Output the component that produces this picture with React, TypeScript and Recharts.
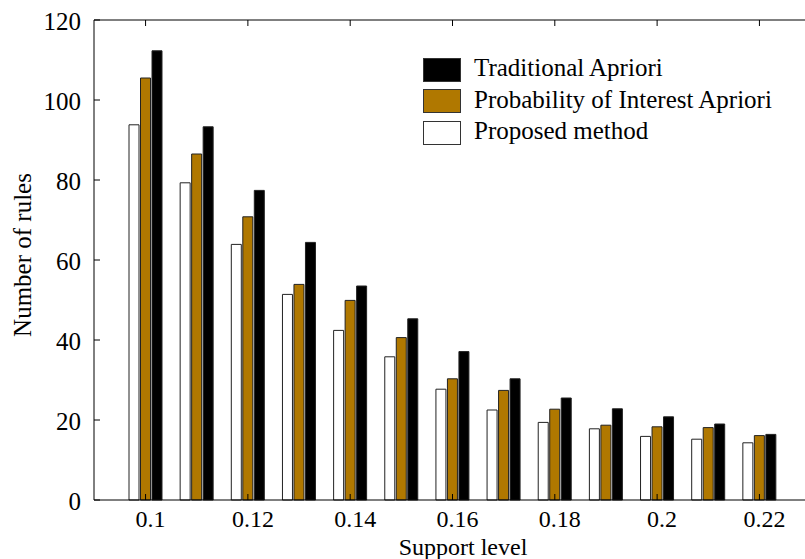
import React from 'react';
import { BarChart, Bar, XAxis, YAxis, Legend } from 'recharts';

const supportLevels = [0.1, 0.11, 0.12, 0.13, 0.14, 0.15, 0.16, 0.17, 0.18, 0.19, 0.2, 0.21, 0.22];
const proposed = [93.8, 79.3, 63.9, 51.4, 42.4, 35.8, 27.7, 22.5, 19.4, 17.8, 15.9, 15.2, 14.3];
const probability = [105.5, 86.5, 70.8, 53.9, 49.9, 40.6, 30.3, 27.4, 22.7, 18.7, 18.3, 18.1, 16.1];
const traditional = [112.3, 93.3, 77.4, 64.4, 53.5, 45.3, 37.1, 30.3, 25.5, 22.8, 20.8, 19.0, 16.4];
const yTicks = [0, 20, 40, 60, 80, 100, 120];

const GOLD = '#b07800';
const FONT = '"Liberation Serif", "Times New Roman", serif';
const FS = 25;
const FSX = 24;

const data = supportLevels.map((s, i) => ({
  support: s,
  proposed: proposed[i],
  probability: probability[i],
  traditional: traditional[i],
}));

const legendItems = [
  { name: 'Traditional Apriori', color: '#000000' },
  { name: 'Probability of Interest Apriori', color: GOLD },
  { name: 'Proposed method', color: '#ffffff' },
];

const LegendContent = () => (
  <div style={{ fontFamily: FONT, fontSize: FS, color: '#000' }}>
    {legendItems.map((it) => (
      <div key={it.name} style={{ display: 'flex', alignItems: 'center', height: 31.5 }}>
        <div
          style={{
            width: 38,
            height: 24,
            boxSizing: 'border-box',
            border: '1px solid #333',
            background: it.color,
          }}
        />
        <span style={{ marginLeft: 13, lineHeight: 1, whiteSpace: 'nowrap', position: 'relative', top: -2 }}>{it.name}</span>
      </div>
    ))}
  </div>
);

const YLabel = (props: any) => {
  const { viewBox } = props;
  const cx = viewBox.x + 22.5;
  const cy = viewBox.y + viewBox.height / 2 - 5;
  return (
    <text
      x={cx}
      y={cy}
      transform={`rotate(-90 ${cx} ${cy})`}
      textAnchor="middle"
      dominantBaseline="central"
      fontFamily={FONT}
      fontSize={FS}
      fill="#000"
    >
      Number of rules
    </text>
  );
};

const XLabel = (props: any) => {
  const { viewBox } = props;
  const cx = viewBox.x + viewBox.width / 2 + 11.5;
  const by = viewBox.y + 55;
  return (
    <text x={cx} y={by} textAnchor="middle" fontFamily={FONT} fontSize={FSX} fill="#000">
      Support level
    </text>
  );
};

const tickStyle = { fontFamily: FONT, fontSize: FS, fill: '#000' };
const xTickStyle = { fontFamily: FONT, fontSize: FSX, fill: '#000' };
const axisLine = { stroke: '#000', strokeWidth: 1 };

export default function App() {
  return (
    <div style={{ position: 'absolute', left: 0, top: 0, width: 805, height: 559, overflow: 'hidden', background: '#fff' }}>
      <BarChart
        width={820}
        height={559}
        data={data}
        margin={{ top: 0, right: 0, bottom: 0, left: 0 }}
        barSize={10}
        barGap={1.5}
      >
        <XAxis
          dataKey="support"
          type="category"
          height={59}
          padding={{ left: 26, right: 24 }}
          interval={1}
          tickSize={-6}
          tickMargin={16}
          tick={{ ...xTickStyle, dx: 5 }}
          axisLine={axisLine}
          tickLine={{ stroke: '#000' }}
          label={<XLabel />}
        />
        <XAxis
          xAxisId="top"
          dataKey="support"
          type="category"
          orientation="top"
          height={20}
          padding={{ left: 26, right: 24 }}
          interval={1}
          tickSize={-6}
          tickFormatter={() => ''}
          axisLine={axisLine}
          tickLine={{ stroke: '#000' }}
        />
        <YAxis
          domain={[0, 120]}
          ticks={yTicks}
          width={94}
          tickSize={-6}
          tickMargin={19}
          tick={{ ...tickStyle, dy: 1 }}
          axisLine={axisLine}
          tickLine={{ stroke: '#000' }}
          label={<YLabel />}
        />
        <YAxis
          yAxisId="right"
          orientation="right"
          domain={[0, 120]}
          ticks={yTicks}
          width={11}
          tickSize={-6}
          tickFormatter={() => ''}
          axisLine={axisLine}
          tickLine={{ stroke: '#000' }}
        />
        <Legend
          layout="vertical"
          align="center"
          verticalAlign="middle"
          content={<LegendContent />}
          wrapperStyle={{ left: 423, top: 54, width: 'auto', height: 'auto' }}
        />
        <Bar dataKey="proposed" name="Proposed method" fill="#ffffff" stroke="#222" strokeWidth={1} isAnimationActive={false} />
        <Bar dataKey="probability" name="Probability of Interest Apriori" fill={GOLD} stroke="#222" strokeWidth={1} isAnimationActive={false} />
        <Bar dataKey="traditional" name="Traditional Apriori" fill="#000000" stroke="#222" strokeWidth={1} isAnimationActive={false} />
      </BarChart>
    </div>
  );
}
